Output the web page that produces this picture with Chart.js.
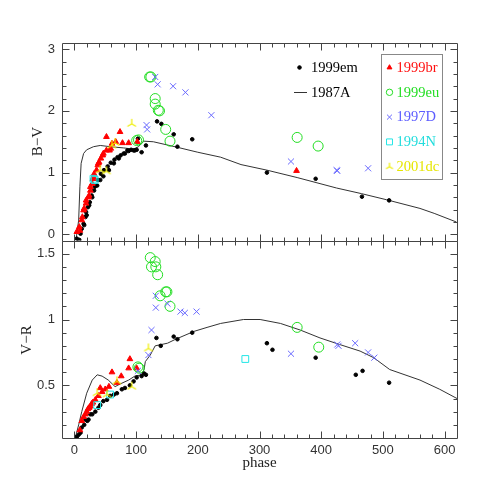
<!DOCTYPE html>
<html>
<head>
<meta charset="utf-8">
<script src="https://cdn.jsdelivr.net/npm/chart.js"></script>
<style>
  html, body { margin: 0; padding: 0; background: #fff; }
</style>
</head>
<body>
<canvas id="myChart" width="499" height="499"></canvas>
<script>
// axis ticks
const phaseTicks = [0, 100, 200, 300, 400, 500, 600];
const bvTicks = [0, 1, 2, 3];
const vrTicks = [0.5, 1, 1.5];

// B-V panel, [phase, B-V]
const em99BV = [[4,-0.07],[8,-0.09],[10,0.01],[12,0.09],[15,0.17],[16,0.15],[18,0.28],[19,0.36],[20,0.31],
  [22,0.44],[24,0.47],[25,0.52],[28,0.63],[29,0.6],[32,0.71],[33,0.77],[37,0.79],[38,0.88],[42,0.88],[43,0.98],
  [47,0.94],[48,1.04],[54,1.10],[56,1.04],[59,1.16],[64,1.15],[65,1.21],[70,1.25],[72,1.23],[75,1.28],[80,1.31],
  [82,1.31],[86,1.36],[88,1.35],[92,1.37],[96,1.36],[98,1.36],[101,1.37],[103,1.55],[109,1.33],[116,1.44],
  [134,1.83],[141,1.79],[161,1.62],[167,1.42],[191,1.54],[312,1.00],[391,0.90],[466,0.61],[510,0.55]];
const br99BV = [[4,0.04],[8,0.12],[9,0.06],[12,0.23],[13,0.28],[15,0.39],[16,0.42],[19,0.50],[19,0.55],[23,0.60],
  [24,0.63],[26,0.71],[26,0.77],[29,0.82],[30,0.90],[31,0.93],[32,0.98],[36,1.04],[38,1.12],[39,1.15],[40,1.17],
  [43,1.23],[46,1.28],[47,1.31],[52,1.36],[52,1.58],[57,1.36],[59,1.39],[61,1.47],[67,1.50],[74,1.66],[78,1.48],
  [88,1.48],[102,1.50],[360,1.03]];
const eu99BV = [[101,1.52],[104,1.53],[122,2.55],[124,2.55],[131,2.20],[131,2.11],[136,2.01],[138,2.00],
  [148,1.70],[155,1.51],[361,1.57],[395,1.43]];
const d97BV = [[117,1.77],[118,1.70],[131,2.55],[135,2.43],[160,2.40],[180,2.30],[222,1.93],[351,1.18],
  [425,1.04],[426,1.03],[476,1.07]];
const n94BV = [[31,0.90],[33,0.88]];
const dc01BV = [[42,1.04],[52,1.02],[61,1.44],[66,1.48],[93,1.79]];
const a87BV = [[3,-0.07],[7,0.23],[9,0.77],[11,1.15],[15,1.31],[20,1.37],[31,1.42],[42,1.44],[58,1.42],[80,1.40],
  [96,1.38],[104,1.42],[112,1.51],[128,1.50],[167,1.41],[200,1.33],[237,1.25],[270,1.13],[312,1.04],[361,0.92],
  [425,0.75],[465,0.66],[506,0.56],[560,0.42],[583,0.34],[619,0.20]];

// V-R panel, [phase, V-R]
const em99VR = [[4,0.11],[7,0.125],[10,0.14],[12,0.18],[16,0.20],[18,0.24],[21,0.23],[23,0.24],[26,0.28],
  [29,0.28],[34,0.30],[39,0.33],[42,0.35],[47,0.38],[53,0.39],[58,0.42],[64,0.43],[69,0.44],[77,0.47],[82,0.48],
  [90,0.50],[96,0.53],[101,0.56],[109,0.57],[113,0.59],[116,0.58],[133,0.86],[140,0.80],[161,0.87],[167,0.85],
  [191,0.90],[312,0.82],[321,0.77],[391,0.71],[456,0.58],[467,0.61],[510,0.52]];
const br99VR = [[9,0.16],[12,0.23],[15,0.26],[18,0.28],[20,0.30],[22,0.32],[24,0.33],[26,0.34],[28,0.36],
  [30,0.37],[34,0.39],[39,0.42],[42,0.48],[45,0.45],[50,0.47],[56,0.49],[61,0.60],[69,0.52],[76,0.57],[88,0.63],
  [90,0.70],[101,0.63]];
const eu99VR = [[103,0.64],[105,0.63],[123,1.47],[131,1.44],[125,1.40],[132,1.40],[135,1.34],[148,1.21],
  [150,1.21],[139,1.18],[155,1.10],[361,0.94],[396,0.79]];
const d97VR = [[103,0.61],[120,0.73],[125,0.92],[132,1.18],[151,1.12],[132,1.09],[172,1.06],[179,1.05],
  [198,1.06],[351,0.74],[426,0.81],[428,0.80],[455,0.82],[476,0.75],[486,0.71]];
const n94VR = [[37,0.35],[58,0.43],[277,0.70]];
const dc01VR = [[37,0.44],[53,0.43],[69,0.53],[93,0.49],[120,0.78]];
const a87VR = [[2,0.11],[7,0.20],[12,0.30],[20,0.44],[29,0.54],[37,0.58],[45,0.57],[55,0.54],[66,0.49],[74,0.51],
  [88,0.54],[98,0.57],[109,0.58],[113,0.62],[115,0.68],[123,0.73],[131,0.80],[151,0.82],[164,0.85],[194,0.91],
  [215,0.94],[237,0.97],[274,1.00],[301,1.00],[334,0.97],[366,0.92],[398,0.86],[430,0.81],[463,0.76],[485,0.71],
  [511,0.62],[560,0.54],[592,0.47],[620,0.40]];

// three-pronged marker used for 2001dc
function triStar(color, size) {
    const c = document.createElement('canvas');
    c.width = c.height = size * 2 + 2;
    const g = c.getContext('2d');
    const m = size + 1;
    g.strokeStyle = color;
    g.lineWidth = 1.2;
    g.beginPath();
    [-90, 30, 150].forEach(a => {
        g.moveTo(m, m);
        g.lineTo(m + size * Math.cos(a * Math.PI / 180), m + size * Math.sin(a * Math.PI / 180));
    });
    g.stroke();
    return c;
}

const sty = {
    em: {name: '1999em', pointStyle: 'circle', radius: 1.8, key: 1.8, fill: '#000', stroke: '#000', text: '#000'},
    br: {name: '1999br', pointStyle: 'triangle', radius: 3.3, key: 2.8, fill: '#ff0000', stroke: '#ff0000', text: '#ff1010'},
    eu: {name: '1999eu', pointStyle: 'circle', radius: 5, key: 3.2, fill: 'rgba(0,0,0,0)', stroke: '#22dd22', text: '#22dd22'},
    D:  {name: '1997D', pointStyle: 'crossRot', radius: 4.3, key: 3.5, fill: 'rgba(0,0,0,0)', stroke: '#6a6aff', text: '#5c5cff'},
    N:  {name: '1994N', pointStyle: 'rect', radius: 4.8, key: 4.2, fill: 'rgba(0,0,0,0)', stroke: '#22e6e6', text: '#22dddd'},
    dc: {name: '2001dc', pointStyle: triStar('#eeee00', 5), keyStyle: triStar('#eeee00', 4), radius: 5, key: 4,
         fill: 'rgba(0,0,0,0)', stroke: '#eeee00', text: '#e6e600'}
};

function pts(a) {
    return a.map(([x, y]) => ({x: x, y: y}));
}

function marks(data, s, axis) {
    return {
        data: pts(data),
        yAxisID: axis,
        showLine: false,
        pointStyle: s.pointStyle,
        pointRadius: s.radius,
        pointBackgroundColor: s.fill,
        pointBorderColor: s.stroke,
        pointBorderWidth: 1
    };
}

function sn87(data, axis) {
    return {
        data: pts(data),
        yAxisID: axis,
        showLine: true,
        borderColor: '#333',
        borderWidth: 1,
        pointRadius: 0,
        tension: 0
    };
}

// frame with inward ticks on all sides of both panels
const frameTicks = {
    id: 'frameTicks',
    afterDatasetsDraw(chart) {
        const ctx = chart.ctx;
        const xs = chart.scales.x;
        const near = (a, list) => list.some(v => Math.abs(v - a) < 1e-6);
        ctx.save();
        ctx.strokeStyle = '#444';
        ctx.lineWidth = 1;
        ctx.beginPath();
        [['yTop', bvTicks, 0.2], ['yBot', vrTicks, 0.1]].forEach(([id, major, step]) => {
            const ys = chart.scales[id];
            const l = Math.round(xs.left) + 0.5, r = Math.round(xs.right) + 0.5;
            const t = Math.round(ys.top) + 0.5, b = Math.round(ys.bottom) + 0.5;
            ctx.rect(l, t, r - l, b - t);
            for (let v = 0; v <= xs.max; v += 20) {
                const px = Math.round(xs.getPixelForValue(v)) + 0.5;
                if (px <= l + 1 || px >= r - 1) continue;
                const len = near(v, phaseTicks) ? 7 : 4;
                ctx.moveTo(px, b); ctx.lineTo(px, b - len);
                ctx.moveTo(px, t); ctx.lineTo(px, t + len);
            }
            const n = Math.round((ys.max - ys.min) / step);
            for (let i = 0; i <= n + 1; i++) {
                const v = Math.round((Math.ceil(ys.min / step) + i) * step * 10) / 10;
                if (v > ys.max) break;
                const py = Math.round(ys.getPixelForValue(v)) + 0.5;
                if (py <= t + 1 || py >= b - 1) continue;
                const len = near(v, major) ? 7 : 4;
                ctx.moveTo(l, py); ctx.lineTo(l + len, py);
                ctx.moveTo(r, py); ctx.lineTo(r - len, py);
            }
        });
        ctx.stroke();
        ctx.restore();
    }
};

// titles and keys
const keys = {
    id: 'keys',
    afterDraw(chart) {
        const ctx = chart.ctx;
        const H = Chart.helpers;
        const mark = (s, x, y) => {
            ctx.fillStyle = s.fill;
            ctx.strokeStyle = s.stroke;
            ctx.lineWidth = 1;
            H.drawPoint(ctx, {pointStyle: s.keyStyle || s.pointStyle, radius: s.key, rotation: 0, borderWidth: 1}, x, y);
        };
        ctx.save();
        ctx.font = '15px "Liberation Serif", serif';
        ctx.fillStyle = '#222';
        ctx.textAlign = 'center';
        ctx.textBaseline = 'middle';
        ctx.fillText('phase', 259.5, 463);
        [['B\u2212V', 38, 141.5], ['V\u2212R', 27, 340]].forEach(([txt, x, y]) => {
            ctx.save();
            ctx.translate(x, y);
            ctx.rotate(-Math.PI / 2);
            ctx.fillText(txt, 0, 0);
            ctx.restore();
        });

        ctx.font = '14.5px "Liberation Serif", serif';
        ctx.textAlign = 'left';
        mark(sty.em, 299.5, 67.5);
        ctx.fillStyle = '#000';
        ctx.fillText('1999em', 311, 68);
        ctx.strokeStyle = '#333';
        ctx.beginPath();
        ctx.moveTo(294, 92.5); ctx.lineTo(307, 92.5);
        ctx.stroke();
        ctx.fillStyle = '#000';
        ctx.fillText('1987A', 311, 93);

        ctx.strokeStyle = '#888';
        ctx.strokeRect(381.5, 54.5, 61, 125);
        ['br', 'eu', 'D', 'N', 'dc'].forEach((k, i) => {
            const s = sty[k];
            const y = 67.5 + i * 24.8;
            mark(s, 389.5, y);
            ctx.fillStyle = s.text;
            ctx.fillText(s.name, 396.5, y + 0.5);
        });
        ctx.restore();
    }
};

const tickFont = {family: '"Liberation Sans", Arial, sans-serif', size: 13};
const plainLabel = v => String(v);

const ctx = document.getElementById('myChart').getContext('2d');
const myChart = new Chart(ctx, {
    type: 'scatter',
    data: {
        datasets: [
            marks(dc01BV, sty.dc, 'yTop'),
            marks(n94BV, sty.N, 'yTop'),
            marks(d97BV, sty.D, 'yTop'),
            marks(eu99BV, sty.eu, 'yTop'),
            marks(br99BV, sty.br, 'yTop'),
            marks(em99BV, sty.em, 'yTop'),
            sn87(a87BV, 'yTop'),
            marks(dc01VR, sty.dc, 'yBot'),
            marks(n94VR, sty.N, 'yBot'),
            marks(d97VR, sty.D, 'yBot'),
            marks(eu99VR, sty.eu, 'yBot'),
            marks(br99VR, sty.br, 'yBot'),
            marks(em99VR, sty.em, 'yBot'),
            sn87(a87VR, 'yBot')
        ]
    },
    options: {
        responsive: false,
        animation: false,
        devicePixelRatio: 1,
        layout: {padding: {left: 0, top: 43, right: 42, bottom: 0}},
        plugins: {legend: {display: false}, tooltip: {enabled: false}},
        scales: {
            x: {
                type: 'linear',
                position: 'bottom',
                min: -20,
                max: 620,
                grid: {display: false, drawTicks: false},
                border: {display: false},
                ticks: {font: tickFont, color: '#333', padding: 5, maxRotation: 0, callback: plainLabel},
                afterBuildTicks: s => { s.ticks = phaseTicks.map(v => ({value: v})); },
                afterFit: s => { s.height = 61; }
            },
            // the first scale of a stack goes to the bottom
            yBot: {
                type: 'linear',
                position: 'left',
                stack: 'panels',
                stackWeight: 1,
                min: 0.1,
                max: 1.6,
                grid: {display: false, drawTicks: false},
                border: {display: false},
                ticks: {font: tickFont, color: '#333', padding: 7, callback: plainLabel},
                afterBuildTicks: s => { s.ticks = vrTicks.map(v => ({value: v})); },
                afterFit: s => { s.width = 62; }
            },
            yTop: {
                type: 'linear',
                position: 'left',
                stack: 'panels',
                stackWeight: 1,
                min: -0.1,
                max: 3.1,
                grid: {display: false, drawTicks: false},
                border: {display: false},
                ticks: {font: tickFont, color: '#333', padding: 7, callback: plainLabel},
                afterBuildTicks: s => { s.ticks = bvTicks.map(v => ({value: v})); },
                afterFit: s => { s.width = 62; }
            }
        }
    },
    plugins: [frameTicks, keys]
});
</script>
</body>
</html>
